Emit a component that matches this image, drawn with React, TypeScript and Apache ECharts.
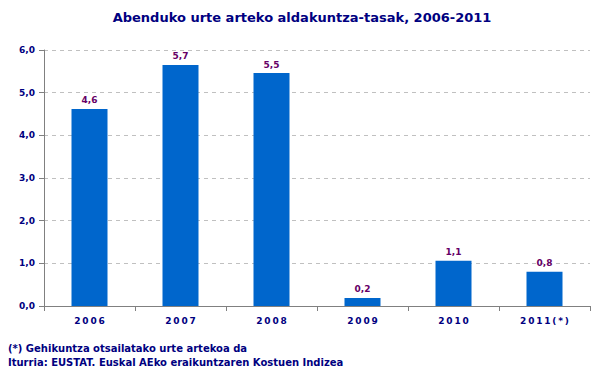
import React, { useEffect, useRef } from "react";
import * as echarts from "echarts";

const categories = ["2006", "2007", "2008", "2009", "2010", "2011(*)"];
const values = [4.62, 5.65, 5.46, 0.19, 1.06, 0.8];
const yTicks = [0, 1, 2, 3, 4, 5, 6];
const titleText = "Abenduko urte arteko aldakuntza-tasak, 2006-2011";
const noteLines = [
  "(*) Gehikuntza otsailatako urte artekoa da",
  "Iturria: EUSTAT. Euskal AEko eraikuntzaren Kostuen Indizea",
];

const FONT = "DejaVu Sans, Verdana, sans-serif";

export default function App() {
  const ref = useRef<HTMLDivElement>(null);
  useEffect(() => {
    const chart = echarts.init(ref.current!, null, { renderer: "svg" });
    chart.setOption({
      animation: false,
      backgroundColor: "#ffffff",
      title: {
        text: titleText,
        left: "center",
        top: 6,
        textStyle: { fontFamily: FONT, fontSize: 13, fontWeight: "bold", color: "#000080" },
      },
      graphic: noteLines.map((t, i) => ({
        type: "text",
        left: 8,
        top: 343 + i * 14,
        style: { text: t, font: `bold 10px ${FONT}`, fill: "#000080" },
      })),
      grid: { left: 44, right: 14, top: 50, bottom: 64, containLabel: false },
      xAxis: {
        type: "category",
        data: categories,
        axisLine: { lineStyle: { color: "#808080", width: 1 } },
        axisTick: { show: true, length: 5, lineStyle: { color: "#808080" } },
        axisLabel: {
          fontFamily: FONT,
          fontSize: 9,
          fontWeight: "bold",
          color: "#000080",
          margin: 10,
          formatter: (v: string) => v.split("").join("\u2009"),
        },
      },
      yAxis: {
        type: "value",
        min: yTicks[0],
        max: yTicks[yTicks.length - 1],
        interval: 1,
        axisLine: { show: true, lineStyle: { color: "#808080", width: 1 } },
        axisTick: { show: true, length: 5, lineStyle: { color: "#808080" } },
        splitLine: { lineStyle: { color: "#c0c0c0", type: [4, 4] } },
        axisLabel: {
          fontFamily: FONT,
          fontSize: 9,
          fontWeight: "bold",
          color: "#000080",
          margin: 9,
          formatter: (v: number) => v.toFixed(1).replace(".", ","),
        },
      },
      series: [
        {
          type: "bar",
          data: values,
          barWidth: 36,
          itemStyle: { color: "#0066cc" },
          label: {
            show: true,
            position: "top",
            distance: 4,
            fontFamily: FONT,
            fontSize: 9,
            fontWeight: "bold",
            color: "#660066",
            formatter: (p: any) => p.value.toFixed(1).replace(".", ","),
          },
        },
      ],
    });
    return () => chart.dispose();
  }, []);
  return <div ref={ref} style={{ width: 604, height: 370, position: "absolute", left: 0, top: 0 }} />;
}
